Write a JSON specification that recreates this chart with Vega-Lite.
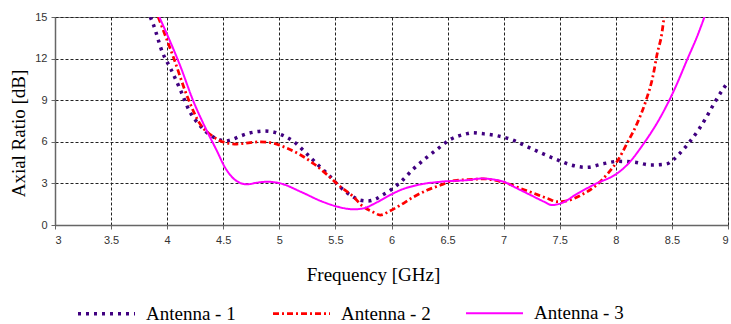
{
  "$schema": "https://vega.github.io/schema/vega-lite/v6.json",
  "width": 673,
  "height": 208,
  "autosize": {"type": "none"},
  "padding": {"left": 55, "top": 17, "right": 3, "bottom": 99},
  "background": "white",
  "config": {
    "view": {"stroke": "#888888", "strokeWidth": 1},
    "axis": {
      "grid": true,
      "gridColor": "#222222",
      "gridDash": [3, 2],
      "gridWidth": 1,
      "domainColor": "#666666",
      "domainWidth": 1.5,
      "tickColor": "#666666",
      "tickSize": 4,
      "labelFont": "Liberation Sans",
      "labelFontSize": 11,
      "labelColor": "#333333",
      "titleFont": "Liberation Serif, Times New Roman, serif",
      "titleFontSize": 19,
      "titleFontWeight": "normal",
      "titleColor": "#000000"
    }
  },
  "data": {
    "values": [
      {"s": "Antenna - 1", "f": 3.85, "ar": 15},
      {"s": "Antenna - 1", "f": 3.875, "ar": 14.5},
      {"s": "Antenna - 1", "f": 3.96, "ar": 12.4},
      {"s": "Antenna - 1", "f": 4.03, "ar": 11.3},
      {"s": "Antenna - 1", "f": 4.12, "ar": 9.7},
      {"s": "Antenna - 1", "f": 4.2, "ar": 8.2},
      {"s": "Antenna - 1", "f": 4.29, "ar": 7.2},
      {"s": "Antenna - 1", "f": 4.38, "ar": 6.5},
      {"s": "Antenna - 1", "f": 4.45, "ar": 6.2},
      {"s": "Antenna - 1", "f": 4.52, "ar": 6.06},
      {"s": "Antenna - 1", "f": 4.59, "ar": 6.2},
      {"s": "Antenna - 1", "f": 4.65, "ar": 6.4},
      {"s": "Antenna - 1", "f": 4.72, "ar": 6.6},
      {"s": "Antenna - 1", "f": 4.795, "ar": 6.73},
      {"s": "Antenna - 1", "f": 4.866, "ar": 6.78},
      {"s": "Antenna - 1", "f": 4.935, "ar": 6.73},
      {"s": "Antenna - 1", "f": 5.009, "ar": 6.54},
      {"s": "Antenna - 1", "f": 5.13, "ar": 6.0},
      {"s": "Antenna - 1", "f": 5.24, "ar": 5.17},
      {"s": "Antenna - 1", "f": 5.34, "ar": 4.37},
      {"s": "Antenna - 1", "f": 5.44, "ar": 3.6},
      {"s": "Antenna - 1", "f": 5.545, "ar": 2.72},
      {"s": "Antenna - 1", "f": 5.655, "ar": 2.04},
      {"s": "Antenna - 1", "f": 5.717, "ar": 1.8},
      {"s": "Antenna - 1", "f": 5.79, "ar": 1.73},
      {"s": "Antenna - 1", "f": 5.857, "ar": 1.87},
      {"s": "Antenna - 1", "f": 5.92, "ar": 2.16},
      {"s": "Antenna - 1", "f": 5.98, "ar": 2.45},
      {"s": "Antenna - 1", "f": 6.09, "ar": 3.17},
      {"s": "Antenna - 1", "f": 6.19, "ar": 4.0},
      {"s": "Antenna - 1", "f": 6.297, "ar": 4.76},
      {"s": "Antenna - 1", "f": 6.41, "ar": 5.48},
      {"s": "Antenna - 1", "f": 6.527, "ar": 6.18},
      {"s": "Antenna - 1", "f": 6.66, "ar": 6.56},
      {"s": "Antenna - 1", "f": 6.726, "ar": 6.66},
      {"s": "Antenna - 1", "f": 6.795, "ar": 6.6},
      {"s": "Antenna - 1", "f": 6.94, "ar": 6.44},
      {"s": "Antenna - 1", "f": 7.08, "ar": 6.13},
      {"s": "Antenna - 1", "f": 7.21, "ar": 5.65},
      {"s": "Antenna - 1", "f": 7.34, "ar": 5.17},
      {"s": "Antenna - 1", "f": 7.47, "ar": 4.73},
      {"s": "Antenna - 1", "f": 7.6, "ar": 4.33},
      {"s": "Antenna - 1", "f": 7.74, "ar": 4.16},
      {"s": "Antenna - 1", "f": 7.88, "ar": 4.4},
      {"s": "Antenna - 1", "f": 8.02, "ar": 4.59},
      {"s": "Antenna - 1", "f": 8.16, "ar": 4.54},
      {"s": "Antenna - 1", "f": 8.31, "ar": 4.33},
      {"s": "Antenna - 1", "f": 8.45, "ar": 4.4},
      {"s": "Antenna - 1", "f": 8.51, "ar": 4.69},
      {"s": "Antenna - 1", "f": 8.565, "ar": 5.12},
      {"s": "Antenna - 1", "f": 8.655, "ar": 5.96},
      {"s": "Antenna - 1", "f": 8.74, "ar": 6.9},
      {"s": "Antenna - 1", "f": 8.81, "ar": 7.81},
      {"s": "Antenna - 1", "f": 8.88, "ar": 8.82},
      {"s": "Antenna - 1", "f": 8.96, "ar": 9.85},
      {"s": "Antenna - 1", "f": 9.0, "ar": 10.29},

      {"s": "Antenna - 2", "f": 3.92, "ar": 15},
      {"s": "Antenna - 2", "f": 4.06, "ar": 12.0},
      {"s": "Antenna - 2", "f": 4.18, "ar": 9.25},
      {"s": "Antenna - 2", "f": 4.29, "ar": 7.33},
      {"s": "Antenna - 2", "f": 4.41, "ar": 6.37},
      {"s": "Antenna - 2", "f": 4.52, "ar": 5.94},
      {"s": "Antenna - 2", "f": 4.62, "ar": 5.84},
      {"s": "Antenna - 2", "f": 4.74, "ar": 5.94},
      {"s": "Antenna - 2", "f": 4.83, "ar": 6.0},
      {"s": "Antenna - 2", "f": 4.95, "ar": 5.89},
      {"s": "Antenna - 2", "f": 5.07, "ar": 5.53},
      {"s": "Antenna - 2", "f": 5.19, "ar": 5.05},
      {"s": "Antenna - 2", "f": 5.31, "ar": 4.4},
      {"s": "Antenna - 2", "f": 5.43, "ar": 3.6},
      {"s": "Antenna - 2", "f": 5.545, "ar": 2.76},
      {"s": "Antenna - 2", "f": 5.66, "ar": 2.04},
      {"s": "Antenna - 2", "f": 5.74, "ar": 1.37},
      {"s": "Antenna - 2", "f": 5.83, "ar": 0.96},
      {"s": "Antenna - 2", "f": 5.9, "ar": 0.72},
      {"s": "Antenna - 2", "f": 5.99, "ar": 1.03},
      {"s": "Antenna - 2", "f": 6.08, "ar": 1.44},
      {"s": "Antenna - 2", "f": 6.2, "ar": 2.04},
      {"s": "Antenna - 2", "f": 6.32, "ar": 2.52},
      {"s": "Antenna - 2", "f": 6.44, "ar": 2.88},
      {"s": "Antenna - 2", "f": 6.56, "ar": 3.2},
      {"s": "Antenna - 2", "f": 6.73, "ar": 3.29},
      {"s": "Antenna - 2", "f": 6.82, "ar": 3.33},
      {"s": "Antenna - 2", "f": 6.91, "ar": 3.24},
      {"s": "Antenna - 2", "f": 7.03, "ar": 3.0},
      {"s": "Antenna - 2", "f": 7.15, "ar": 2.64},
      {"s": "Antenna - 2", "f": 7.27, "ar": 2.28},
      {"s": "Antenna - 2", "f": 7.39, "ar": 1.92},
      {"s": "Antenna - 2", "f": 7.48, "ar": 1.68},
      {"s": "Antenna - 2", "f": 7.57, "ar": 1.75},
      {"s": "Antenna - 2", "f": 7.69, "ar": 2.16},
      {"s": "Antenna - 2", "f": 7.81, "ar": 2.76},
      {"s": "Antenna - 2", "f": 7.93, "ar": 3.73},
      {"s": "Antenna - 2", "f": 8.02, "ar": 4.69},
      {"s": "Antenna - 2", "f": 8.1, "ar": 5.89},
      {"s": "Antenna - 2", "f": 8.19, "ar": 7.33},
      {"s": "Antenna - 2", "f": 8.27, "ar": 9.0},
      {"s": "Antenna - 2", "f": 8.33, "ar": 10.7},
      {"s": "Antenna - 2", "f": 8.37, "ar": 12.4},
      {"s": "Antenna - 2", "f": 8.41, "ar": 13.8},
      {"s": "Antenna - 2", "f": 8.43, "ar": 15},

      {"s": "Antenna - 3", "f": 3.93, "ar": 15},
      {"s": "Antenna - 3", "f": 4.12, "ar": 11.4},
      {"s": "Antenna - 3", "f": 4.23, "ar": 9.0},
      {"s": "Antenna - 3", "f": 4.35, "ar": 6.85},
      {"s": "Antenna - 3", "f": 4.44, "ar": 5.4},
      {"s": "Antenna - 3", "f": 4.52, "ar": 4.09},
      {"s": "Antenna - 3", "f": 4.62, "ar": 3.17},
      {"s": "Antenna - 3", "f": 4.71, "ar": 2.93},
      {"s": "Antenna - 3", "f": 4.8, "ar": 3.05},
      {"s": "Antenna - 3", "f": 4.89, "ar": 3.12},
      {"s": "Antenna - 3", "f": 5.01, "ar": 3.0},
      {"s": "Antenna - 3", "f": 5.19, "ar": 2.4},
      {"s": "Antenna - 3", "f": 5.37, "ar": 1.73},
      {"s": "Antenna - 3", "f": 5.52, "ar": 1.32},
      {"s": "Antenna - 3", "f": 5.66, "ar": 1.13},
      {"s": "Antenna - 3", "f": 5.75, "ar": 1.2},
      {"s": "Antenna - 3", "f": 5.84, "ar": 1.51},
      {"s": "Antenna - 3", "f": 5.96, "ar": 2.04},
      {"s": "Antenna - 3", "f": 6.08, "ar": 2.52},
      {"s": "Antenna - 3", "f": 6.26, "ar": 2.93},
      {"s": "Antenna - 3", "f": 6.44, "ar": 3.12},
      {"s": "Antenna - 3", "f": 6.68, "ar": 3.24},
      {"s": "Antenna - 3", "f": 6.8, "ar": 3.35},
      {"s": "Antenna - 3", "f": 7.0, "ar": 3.12},
      {"s": "Antenna - 3", "f": 7.09, "ar": 2.76},
      {"s": "Antenna - 3", "f": 7.24, "ar": 2.16},
      {"s": "Antenna - 3", "f": 7.36, "ar": 1.68},
      {"s": "Antenna - 3", "f": 7.43, "ar": 1.44},
      {"s": "Antenna - 3", "f": 7.51, "ar": 1.56},
      {"s": "Antenna - 3", "f": 7.66, "ar": 2.28},
      {"s": "Antenna - 3", "f": 7.81, "ar": 2.93},
      {"s": "Antenna - 3", "f": 8.02, "ar": 3.77},
      {"s": "Antenna - 3", "f": 8.1, "ar": 4.33},
      {"s": "Antenna - 3", "f": 8.25, "ar": 5.89},
      {"s": "Antenna - 3", "f": 8.4, "ar": 7.81},
      {"s": "Antenna - 3", "f": 8.52, "ar": 9.73},
      {"s": "Antenna - 3", "f": 8.64, "ar": 12.0},
      {"s": "Antenna - 3", "f": 8.73, "ar": 13.7},
      {"s": "Antenna - 3", "f": 8.79, "ar": 15}
    ]
  },
  "mark": {"type": "line", "interpolate": "monotone", "clip": true},
  "encoding": {
    "x": {
      "field": "f",
      "type": "quantitative",
      "scale": {"domain": [3, 9], "nice": false, "zero": false},
      "axis": {
        "values": [3, 3.5, 4, 4.5, 5, 5.5, 6, 6.5, 7, 7.5, 8, 8.5, 9],
        "format": "~g",
        "title": "Frequency [GHz]",
        "labelPadding": 5,
        "titleX": 318,
        "titleY": 55,
        "titleBaseline": "alphabetic"
      }
    },
    "y": {
      "field": "ar",
      "type": "quantitative",
      "scale": {"domain": [0, 15], "nice": false},
      "axis": {
        "values": [0, 3, 6, 9, 12, 15],
        "title": "Axial Ratio [dB]",
        "labelPadding": 4,
        "titleX": -37,
        "titleY": 116,
        "titleAngle": -90,
        "titleBaseline": "middle",
        "titleAlign": "center"
      }
    },
    "color": {
      "field": "s",
      "type": "nominal",
      "scale": {"domain": ["Antenna - 1", "Antenna - 2", "Antenna - 3"], "range": ["#400080", "#ff0000", "#ff00ff"]},
      "legend": {
        "orient": "none",
        "legendX": 21,
        "legendY": 266,
        "direction": "horizontal",
        "columns": 3,
        "title": null,
        "symbolType": "stroke",
        "symbolSize": 3249,
        "labelFont": "Liberation Serif, Times New Roman, serif",
        "labelFontSize": 19,
        "labelColor": "#000000",
        "labelOffset": 9,
        "columnPadding": 31,
        "padding": 0,
        "labelLimit": 200
      }
    },
    "strokeDash": {
      "field": "s",
      "type": "nominal",
      "scale": {"domain": ["Antenna - 1", "Antenna - 2", "Antenna - 3"], "range": [[3, 5], [6, 3, 2, 3], [1, 0]]}
    },
    "strokeWidth": {
      "field": "s",
      "type": "ordinal",
      "scale": {"domain": ["Antenna - 1", "Antenna - 2", "Antenna - 3"], "range": [3.5, 2, 2.5]}
    }
  }
}
